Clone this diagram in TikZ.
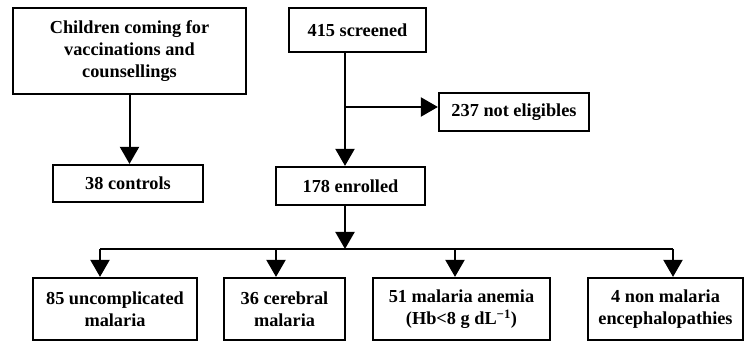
\documentclass[tikz,border=0pt]{standalone}
\usepackage{fontspec}
\setmainfont{Liberation Serif}
\usetikzlibrary{arrows.meta}

\begin{document}
\begin{tikzpicture}[x=1pt,y=-1pt,box/.style={draw=black,fill=white,line width=2.2pt,align=center,inner sep=3pt,font=\fontsize{18.3}{22}\selectfont\bfseries},arr/.style={-{Triangle[width=19pt,length=17pt]},line width=2pt},ln/.style={line width=2pt}]
\useasboundingbox (0,0) rectangle (744,344);

\node[box,minimum width=233,minimum height=86] (kids) at(129.5,51) {Children coming for\\vaccinations and\\counsellings};
\node[box,minimum width=150,minimum height=37] (ctrl) at(128,183.5) {38 controls};
\node[box,minimum width=137,minimum height=44] (scr) at(357.5,30) {415 screened};
\node[box,minimum width=150,minimum height=38] (inel) at(514,112) {237 not eligibles};
\node[box,minimum width=149,minimum height=38] (enr) at(350.5,186) {178 enrolled};
\node[box,minimum width=164,minimum height=62] (b1) at(115,309) {85 uncomplicated\\malaria};
\node[box,minimum width=121,minimum height=62] (b2) at(284.5,309) {36 cerebral\\malaria};
\node[box,minimum width=177,minimum height=62] (b3) at(461.5,309) {51 malaria anemia\\(Hb<8 g dL\textsuperscript{−1})};
\node[box,minimum width=155,minimum height=62] (b4) at(665.5,309) {4 non malaria\\encephalopathies};

\coordinate (spine) at(345,107);
\coordinate (bus) at(345,249);
\coordinate (t1) at(100,249);
\coordinate (t2) at(276,249);
\coordinate (t3) at(455,249);
\coordinate (t4) at(673,249);

\draw[arr] (kids.south) -- (kids.south |- ctrl.north);
\draw[arr] (scr.south -| spine) -- (enr.north -| spine);
\draw[arr] (spine) -- (spine -| inel.west);
\draw[arr] (enr.south -| bus) -- (bus);
\draw[ln] (t1) -- (t4);
\foreach \i in {1,...,4}
  \draw[arr] (t\i) -- (t\i |- b\i.north);
\end{tikzpicture}
\end{document}
